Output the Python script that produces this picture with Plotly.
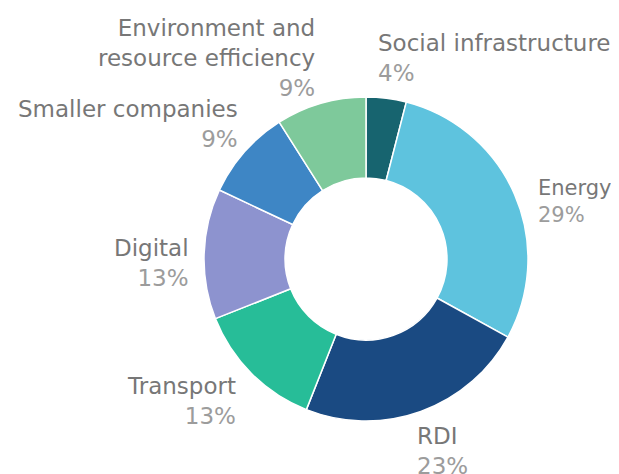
import plotly.graph_objects as go

categories = ["Social infrastructure", "Energy", "RDI", "Transport", "Digital",
              "Smaller companies", "Environment and resource efficiency"]
values = [4, 29, 23, 13, 13, 9, 9]
label_lines = ["Social infrastructure", "Energy", "RDI", "Transport", "Digital",
               "Smaller companies", "Environment and<br>resource efficiency"]
colors = ["#17646f", "#5ec3de", "#1a4a82", "#27bd98", "#8d93cf", "#3e86c5", "#7ec99b"]

# page body has an 8px margin; figure is sized to fit the window
OFF = 8
W, H = 619 - OFF, 474 - OFF
cx, cy, R = 366 - OFF, 259 - OFF, 162


def px_x(x):
    return (x - OFF) / W


def px_y(y):
    return 1 - (y - OFF) / H


fig = go.Figure(go.Pie(
    labels=categories, values=values, sort=False, direction="clockwise",
    rotation=0, hole=0.5, textinfo="none", hoverinfo="label+percent",
    marker=dict(colors=colors, line=dict(color="white", width=1.5)),
    domain=dict(x=[(cx - R) / W, (cx + R) / W], y=[(H - cy - R) / H, (H - cy + R) / H]),
    showlegend=False,
))

# label placement in reference pixels: (x, y of block centre, alignment, font size)
label_pos = [
    (376, 58, "left", 23),
    (536, 201, "left", 21),
    (415, 451, "left", 23),
    (238, 401, "right", 23),
    (191, 263, "right", 23),
    (240, 124, "right", 23),
    (317, 58, "right", 23),
]

total = sum(values)
for name, v, (px, py, al, fs) in zip(label_lines, values, label_pos):
    pct = round(100 * v / total)
    fig.add_annotation(
        xref="paper", yref="paper", x=px_x(px), y=px_y(py),
        xanchor=al, yanchor="middle", align=al, showarrow=False,
        text=f"{name}<br><span style='color:#9c9c9c'>{pct}%</span>",
        font=dict(family="DejaVu Sans", size=fs, color="#777777"),
    )

fig.update_layout(
    width=W, height=H, margin=dict(l=0, r=0, t=0, b=0),
    paper_bgcolor="white", plot_bgcolor="white",
)
fig.write_html("out.html")
